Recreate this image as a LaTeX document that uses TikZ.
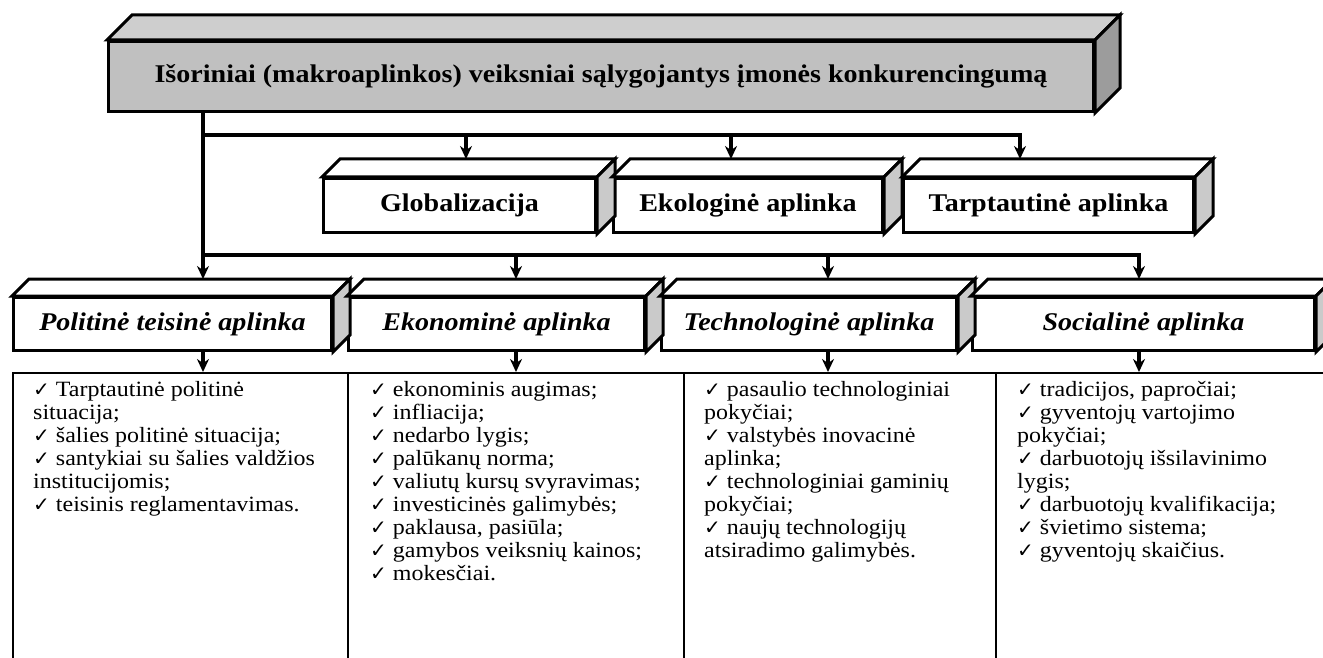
\documentclass[tikz,border=0pt]{standalone}
\usepackage{fontspec}
\setmainfont{Liberation Serif}[FakeStretch=1.1]
\newfontfamily\symfont{DejaVu Sans}
\usepackage{xcolor}
\usetikzlibrary{arrows.meta}

\definecolor{frontgray}{HTML}{C0C0C0}
\definecolor{topgray}{HTML}{CECECE}
\definecolor{sidegray}{HTML}{9C9C9C}
\definecolor{lightside}{HTML}{CACACA}

\newcommand{\chk}{\strut{\symfont\fontsize{20}{20}\selectfont\char"2713}\ }
% top and side faces of a box: node, depth, top fill, side fill
\newcommand{\slabsides}[4]{%
  \filldraw[line width=3pt, fill=#3] (#1.north west) -- ++(#2,-#2) -- ([shift={(#2,-#2)}]#1.north east) -- (#1.north east) -- cycle;
  \filldraw[line width=3pt, fill=#4] (#1.north east) -- ++(#2,-#2) -- ([shift={(#2,-#2)}]#1.south east) -- (#1.south east) -- cycle;
}

\begin{document}
\begin{tikzpicture}[x=1pt,y=-1pt,
    slab/.style={draw, line width=3pt, inner sep=0pt, anchor=north west, fill=white, minimum height=54pt,
      font=\fontsize{25.5}{29}\selectfont\bfseries},
    theme/.style={slab, minimum height=53pt, font=\fontsize{25.5}{29}\selectfont\bfseries\itshape},
    bus/.style={line width=4pt},
    arr/.style={bus, -{Stealth[length=13pt,width=12pt]}},
    listbox/.style={draw, line width=2pt, anchor=north west, minimum height=310pt},
    listtext/.style={anchor=north west, inner sep=0pt, align=left, font=\fontsize{21.8}{23}\selectfont}]
        \useasboundingbox (0,0) rectangle (1323,658);
        % main box
        \node[slab, fill=frontgray, minimum width=985pt, minimum height=70pt] (top) at (107,40)
            {Išoriniai (makroaplinkos) veiksniai sąlygojantys įmonės konkurencingumą};
        \slabsides{top}{25}{topgray}{sidegray}
        % global level
        \node[slab, minimum width=272pt] (glob) at (322,177) {Globalizacija};
        \node[slab, minimum width=269pt] (ekol) at (612,177) {Ekologinė aplinka};
        \node[slab, minimum width=290pt] (tarp) at (902,177) {Tarptautinė aplinka};
        \foreach \n in {glob,ekol,tarp} {\slabsides{\n}{18}{white}{lightside}}
        % PEST level
        \node[theme, minimum width=318pt] (pol) at (12,296) {Politinė teisinė aplinka};
        \node[theme, minimum width=296pt] (ekon) at (347,296) {Ekonominė aplinka};
        \node[theme, minimum width=295pt] (tech) at (660,296) {Technologinė aplinka};
        \node[theme, minimum width=342pt] (soc) at (971,296) {Socialinė aplinka};
        \foreach \n in {pol,ekon,tech,soc} {\slabsides{\n}{17}{white}{lightside}}
        % lists
        \node[listbox, minimum width=335pt] (l1) at (12,372) {};
        \node[listbox, minimum width=336pt] (l2) at (347,372) {};
        \node[listbox, minimum width=312pt] (l3) at (683,372) {};
        \node[listbox, minimum width=345pt] (l4) at (995,372) {};
        \node[listtext] (t1) at (33,380) {\chk Tarptautinė politinė\\situacija;\\\chk šalies politinė situacija;\\
            \chk santykiai su šalies valdžios\\institucijomis;\\\chk teisinis reglamentavimas.};
        \node[listtext] (t2) at (370,380) {\chk ekonominis augimas;\\\chk infliacija;\\\chk nedarbo lygis;\\
            \chk palūkanų norma;\\\chk valiutų kursų svyravimas;\\\chk investicinės galimybės;\\
            \chk paklausa, pasiūla;\\\chk gamybos veiksnių kainos;\\\chk mokesčiai.};
        \node[listtext] (t3) at (704,380) {\chk pasaulio technologiniai\\pokyčiai;\\\chk valstybės inovacinė\\aplinka;\\
            \chk technologiniai gaminių\\pokyčiai;\\\chk naujų technologijų\\atsiradimo galimybės.};
        \node[listtext] (t4) at (1017,380) {\chk tradicijos, papročiai;\\\chk gyventojų vartojimo\\pokyčiai;\\
            \chk darbuotojų išsilavinimo\\lygis;\\\chk darbuotojų kvalifikacija;\\\chk švietimo sistema;\\
            \chk gyventojų skaičius.};
        % buses
        \coordinate (b1) at (203,135);
        \coordinate (b2) at (203,255);
        \coordinate (xg) at (466,135);
        \coordinate (xe) at (731,135);
        \coordinate (xt) at (1020,135);
        \coordinate (xk) at (516,255);
        \coordinate (xh) at (828,255);
        \coordinate (xs) at (1139,255);
        \draw[arr] (top.south -| b1) -- (b2) -- ([yshift=17pt]pol.north -| b1);
        \draw[arr] (b1) -| ([yshift=18pt]tarp.north -| xt);
        \draw[arr] (xg) -- ([yshift=18pt]glob.north -| xg);
        \draw[arr] (xe) -- ([yshift=18pt]ekol.north -| xe);
        \draw[arr] (b2) -| ([yshift=17pt]soc.north -| xs);
        \draw[arr] (xk) -- ([yshift=17pt]ekon.north -| xk);
        \draw[arr] (xh) -- ([yshift=17pt]tech.north -| xh);
        \draw[arr] (pol.south -| b1) -- (l1.north -| b1);
        \draw[arr] (ekon.south -| xk) -- (l2.north -| xk);
        \draw[arr] (tech.south -| xh) -- (l3.north -| xh);
        \draw[arr] (soc.south -| xs) -- (l4.north -| xs);
\end{tikzpicture}
\end{document}
